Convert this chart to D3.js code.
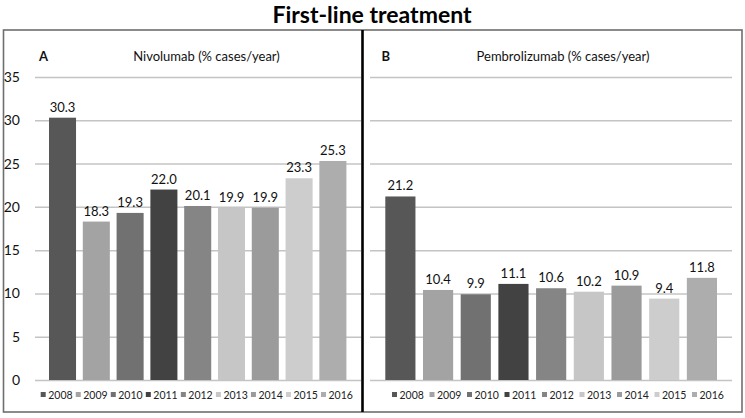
<!DOCTYPE html>
<html>
<head>
<meta charset="utf-8">
<script src="https://cdn.jsdelivr.net/npm/d3@7"></script>
<style>
  html, body { margin: 0; padding: 0; background: #fff; }
  svg { display: block; font-family: Lato, "Open Sans", sans-serif; }
</style>
</head>
<body>
<svg id="chart" width="745" height="418"></svg>
<script>
const years = ["2008", "2009", "2010", "2011", "2012", "2013", "2014", "2015", "2016"];
const nivolumab = [30.3, 18.3, 19.3, 22.0, 20.1, 19.9, 19.9, 23.3, 25.3];
const pembrolizumab = [21.2, 10.4, 9.9, 11.1, 10.6, 10.2, 10.9, 9.4, 11.8];
const yTicks = [0, 5, 10, 15, 20, 25, 30, 35];
const yearColors = ["#575757", "#a3a3a3", "#717171", "#424242", "#858585", "#c6c6c6", "#9b9b9b", "#cdcdcd", "#adadad"];
const panelLetters = ["A", "B"];
const panelTitles = ["Nivolumab (% cases/year)", "Pembrolizumab (% cases/year)"];
const mainTitle = "First-line treatment";

const svg = d3.select("#chart");
const color = d3.scaleOrdinal().domain(years).range(yearColors);
const y = d3.scaleLinear().domain([0, 35]).range([380, 77]);

// title
svg.append("text")
  .attr("x", 372).attr("y", 23)
  .attr("text-anchor", "middle")
  .attr("font-size", 23).attr("font-weight", "bold")
  .attr("fill", "#000")
  .text(mainTitle);

// outer frame
svg.append("rect")
  .attr("x", 3.5).attr("y", 30).attr("width", 738.5).attr("height", 382)
  .attr("fill", "none").attr("stroke", "#6e6e6e").attr("stroke-width", 1.6);

const panels = [
  { values: nivolumab, plot: [35, 361], bars: [49, 346.4], legend: [40.7, 321], labels: true,
    letterX: 39, titleX: 206.5 },
  { values: pembrolizumab, plot: [370, 732], bars: [385.3, 717], legend: [392, 692], labels: false,
    letterX: 381.5, titleX: 563 }
];

panels.forEach((p, i) => {
  const g = svg.append("g");
  const plotW = p.plot[1] - p.plot[0];

  // gridlines + y axis
  const axis = d3.axisLeft(y)
    .tickValues(yTicks)
    .tickSizeInner(-plotW)
    .tickSizeOuter(0)
    .tickPadding(15)
    .tickFormat(p.labels ? d3.format("d") : () => "");
  const ax = g.append("g")
    .attr("transform", `translate(${p.plot[0]},0)`)
    .call(axis);
  ax.select(".domain").remove();
  ax.selectAll(".tick line").attr("stroke", "#c4c4c4").attr("stroke-width", 1.5);
  ax.selectAll(".tick text")
    .attr("font-size", 14).attr("fill", "#111")
    .attr("font-family", "Lato, 'Open Sans', sans-serif");

  // bars
  const x = d3.scaleBand().domain(years).range(p.bars).paddingInner(0.2).paddingOuter(0);
  const data = years.map((yr, k) => ({ year: yr, value: p.values[k] }));
  g.selectAll("rect.bar").data(data).enter().append("rect")
    .attr("class", "bar")
    .attr("x", d => x(d.year))
    .attr("y", d => y(d.value))
    .attr("width", x.bandwidth())
    .attr("height", d => y(0) - y(d.value))
    .attr("fill", d => color(d.year));

  // value labels
  g.selectAll("text.val").data(data).enter().append("text")
    .attr("class", "val")
    .attr("x", d => x(d.year) + x.bandwidth() / 2)
    .attr("y", d => y(d.value) - 6)
    .attr("text-anchor", "middle")
    .attr("font-size", 13).attr("fill", "#111")
    .text(d => d3.format(".1f")(d.value));

  // panel letter & title
  g.append("text")
    .attr("x", p.letterX).attr("y", 60.5)
    .attr("font-size", 13).attr("font-weight", "bold").attr("fill", "#111")
    .text(panelLetters[i]);
  g.append("text")
    .attr("x", p.titleX).attr("y", 60.5)
    .attr("text-anchor", "middle")
    .attr("font-size", 13).attr("fill", "#111")
    .text(panelTitles[i]);

  // legend
  const lx = d3.scalePoint().domain(years).range(p.legend);
  const items = g.selectAll("g.leg").data(years).enter().append("g")
    .attr("class", "leg")
    .attr("transform", d => `translate(${lx(d)},395)`);
  items.append("rect")
    .attr("x", 0).attr("y", -3).attr("width", 5).attr("height", 5)
    .attr("fill", d => color(d));
  items.append("text")
    .attr("x", 7.5).attr("y", 3.5)
    .attr("font-size", 10.5).attr("fill", "#222")
    .text(d => d);
});

// thick divider between panels
svg.append("line")
  .attr("x1", 362.5).attr("x2", 362.5).attr("y1", 30).attr("y2", 412)
  .attr("stroke", "#000").attr("stroke-width", 2.6);
</script>
</body>
</html>
